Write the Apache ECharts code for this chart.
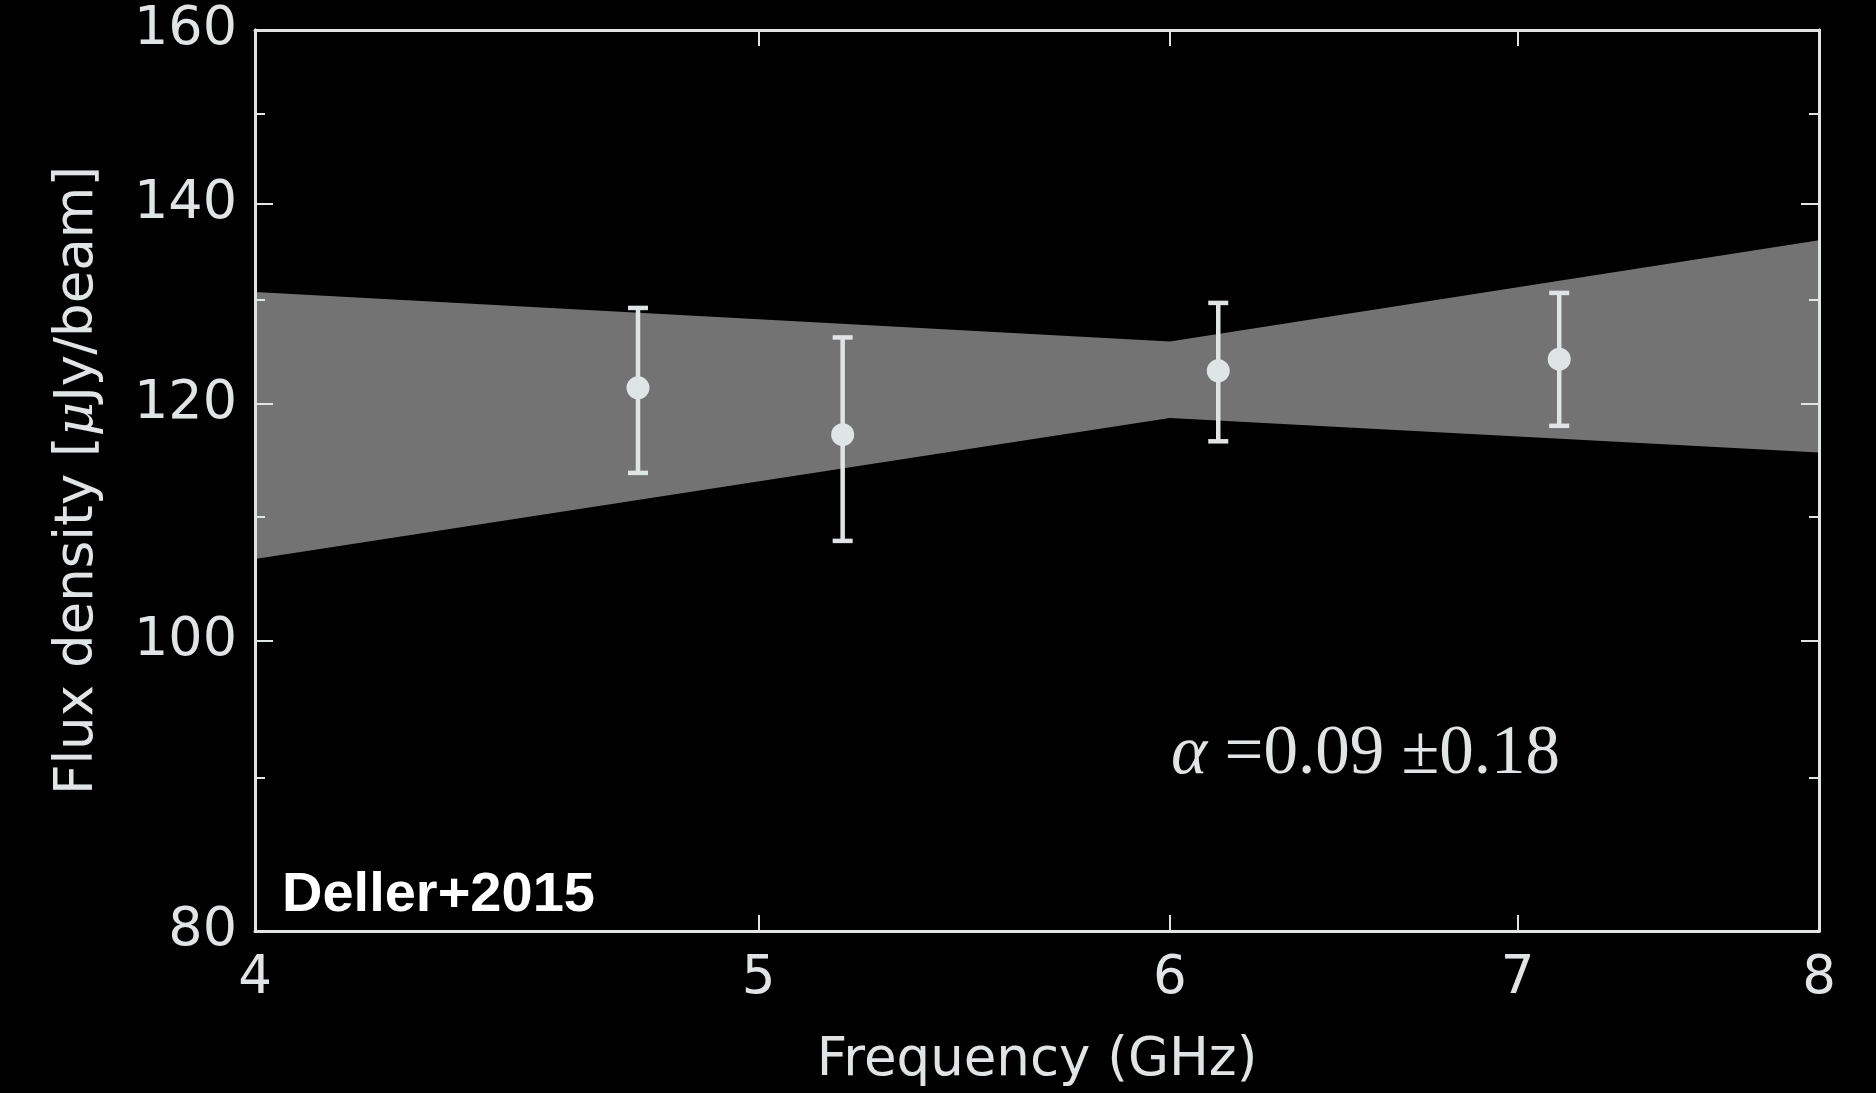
<!DOCTYPE html>
<html>
<head>
<meta charset="utf-8">
<script src="https://cdn.jsdelivr.net/npm/echarts@6/dist/echarts.min.js"></script>
<style>
  html, body { margin: 0; padding: 0; background: #000; }
  #main { width: 1876px; height: 1093px; }
</style>
</head>
<body>
<div id="main"></div>
<script>
// 数据 (GHz, μJy/beam)
var freqs = [4.74, 5.19, 6.13, 7.13];
var flux = [121.5, 117.2, 123.1, 124.2];
var fluxLow = [113.8, 108.0, 116.6, 118.0];
var fluxHigh = [129.2, 126.3, 129.7, 130.7];

// 拟合带
var bandFreq = [4, 6, 8];
var bandLow = [106.5, 118.7, 115.6];
var bandHigh = [130.8, 125.9, 136.1];

var xTickLabels = [4, 5, 6, 7, 8];
var xTicks = [5, 6, 7];
var yMajor = [80, 100, 120, 140, 160];
var yMinor = [90, 110, 130, 150];

var lg = Math.log10;
var fg = '#dfe4e4';

var chart = echarts.init(document.getElementById('main'));

function xAxisOpt(pos, showLabel) {
    return {
        type: 'value', position: pos, z: 5,
        min: lg(4), max: lg(8),
        axisLine: { show: true, lineStyle: { color: fg, width: 3 } },
        axisTick: { show: true, inside: true, length: 16, customValues: xTicks.map(lg), lineStyle: { color: fg, width: 2 } },
        axisLabel: {
            show: showLabel, customValues: xTickLabels.map(lg), margin: 22,
            color: fg, fontFamily: 'DejaVu Sans', fontSize: 53,
            formatter: function (v) { return Math.round(Math.pow(10, v)); }
        },
        splitLine: { show: false },
        name: showLabel ? 'Frequency (GHz)' : '',
        nameLocation: 'middle', nameGap: 104,
        nameTextStyle: { color: fg, fontFamily: 'DejaVu Sans', fontSize: 53 }
    };
}

function yAxisOpt(pos, ticks, len, showLabel) {
    return {
        type: 'value', position: pos, z: 5,
        min: lg(80), max: lg(160),
        axisLine: { show: true, lineStyle: { color: fg, width: 3 } },
        axisTick: { show: true, inside: true, length: len, customValues: ticks.map(lg), lineStyle: { color: fg, width: 2 } },
        axisLabel: {
            show: showLabel, customValues: yMajor.map(lg), margin: 18,
            color: fg, fontFamily: 'DejaVu Sans', fontSize: 54,
            formatter: function (v) { return Math.round(Math.pow(10, v)); }
        },
        splitLine: { show: false },
        name: showLabel ? 'Flux density [{mu|μ}Jy/beam]' : '',
        nameLocation: 'middle', nameGap: 150, nameRotate: 90,
        nameTextStyle: {
            color: fg, fontFamily: 'DejaVu Sans', fontSize: 53,
            rich: { mu: { color: fg, fontFamily: 'DejaVu Serif', fontStyle: 'italic', fontSize: 53 } }
        }
    };
}

var option = {
    backgroundColor: '#000',
    animation: false,
    grid: { left: 255, right: 57, top: 30, bottom: 162 },
    xAxis: [xAxisOpt('bottom', true), xAxisOpt('top', false)],
    yAxis: [
        yAxisOpt('left', yMajor, 18, true),
        yAxisOpt('left', yMinor, 10, false),
        yAxisOpt('right', yMajor, 18, false),
        yAxisOpt('right', yMinor, 10, false)
    ],
    graphic: [
        {
            type: 'text', left: 282, top: 868, z: 10,
            style: { text: 'Deller+2015', fill: '#fff', font: 'bold 56px "Liberation Sans", Arial, sans-serif' }
        },
        {
            type: 'text', left: 1171, top: 720, z: 10,
            style: {
                text: '{a|α} =0.09 ±0.18', fill: fg,
                font: '69px "Liberation Serif", serif',
                rich: { a: { fill: fg, fontStyle: 'italic', fontFamily: 'Liberation Serif', fontSize: 69 } }
            }
        }
    ],
    series: [
        {
            // 灰色拟合带
            type: 'custom', z: 1, silent: true,
            data: [[0]],
            renderItem: function (params, api) {
                var pts = [];
                for (var i = 0; i < bandFreq.length; i++) pts.push(api.coord([lg(bandFreq[i]), lg(bandHigh[i])]));
                for (var j = bandFreq.length - 1; j >= 0; j--) pts.push(api.coord([lg(bandFreq[j]), lg(bandLow[j])]));
                return { type: 'polygon', shape: { points: pts }, style: { fill: '#737373' } };
            }
        },
        {
            // 误差棒
            type: 'custom', z: 2, silent: true,
            data: freqs.map(function (f, i) { return [lg(f), lg(fluxLow[i]), lg(fluxHigh[i])]; }),
            renderItem: function (params, api) {
                var lo = api.coord([api.value(0), api.value(1)]);
                var hi = api.coord([api.value(0), api.value(2)]);
                var cap = 10;
                var st = { stroke: fg, lineWidth: 4.5 };
                return {
                    type: 'group',
                    children: [
                        { type: 'line', shape: { x1: lo[0], y1: lo[1], x2: hi[0], y2: hi[1] }, style: st },
                        { type: 'line', shape: { x1: lo[0] - cap, y1: lo[1], x2: lo[0] + cap, y2: lo[1] }, style: st },
                        { type: 'line', shape: { x1: hi[0] - cap, y1: hi[1], x2: hi[0] + cap, y2: hi[1] }, style: st }
                    ]
                };
            }
        },
        {
            type: 'scatter', z: 3, silent: true,
            symbol: 'circle', symbolSize: 23,
            itemStyle: { color: fg, opacity: 1 },
            data: freqs.map(function (f, i) { return [lg(f), lg(flux[i])]; })
        }
    ]
};

chart.setOption(option);
</script>
</body>
</html>
